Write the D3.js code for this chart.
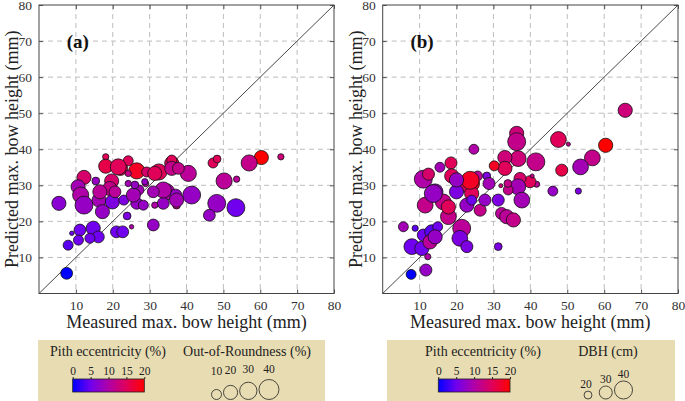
<!DOCTYPE html>
<html><head><meta charset="utf-8">
<script src="https://cdn.jsdelivr.net/npm/d3@7"></script>
<style>body{margin:0;background:#fff}svg{display:block}</style>
</head><body><svg id="c" width="685" height="401"></svg>
<script>
// ---------- data ----------
const tickValues = [10,20,30,40,50,60,70,80];
const pithTicks = [0,5,10,15,20];
const oorLegend = [10,20,30,40];
const dbhLegend = [20,30,40];
const xTitle = "Measured max. bow height (mm)";
const yTitle = "Predicted max. bow height (mm)";

// panel (a): measured, predicted, pith eccentricity (%), out-of-roundness (%)
const aMeasured = [60.3,65.6,57,47.2,48.3,50.2,53.6,18.1,18.1,22.1,24.2,26.5,12.2,19.7,15.4,10.6,11.3,5.4,12.2,16.3,19.9,17.2,23,27.1,28.9,32.5,26.6,23.9,24.2,25.1,31,11.1,14.7,16.1,13.8,10.7,7.9,8.9,21,22.7,7.5,41.4,48.2,53.4,46.2,34.6,37.1,37.3,33.7,31.4,26.5,28.3,25.6,19.2,36,40.5,37.3,21.5,29.2,31.4,36,36,37.8,28.7,26,24.2,33.7,31,20.6,16.5,37.3];
const aPredicted = [37.7,37.9,36.2,36.2,37.3,31.2,31.7,37.9,35.3,34.7,36.8,34.0,32.2,31.2,31.2,29.6,27.3,25.0,24.5,25.9,25.4,22.7,25.9,28.7,30.5,33.7,25,21.5,33.3,18.5,19,17.6,18.1,15.7,15.3,14.8,13.4,16.7,17.1,17.1,5.6,27.3,25,23.8,21.7,28.2,27.3,25.4,25,24.5,25,24.5,27.3,29.1,36.1,33.3,24.5,35.1,33.7,33.3,37,34.7,34.7,31,30.1,30.5,28.7,28.2,28.2,28.2,25.9];
const aPith = [20,13,12,15,15,11,11,15,16,16,15,18,14,14,8,9,10,7,8,9,6,8,6,9,10,15,10,6,12,10,8,5,5,5,5,5,4,5,5,5,0,8,8,5,8,10,8,9,8,10,8,8,9,12,15,11,12,15,14,15,15,12,12,8,8,9,10,9,11,11,9];
const aOOR = [20,4,26,10,6,26,4,4,20,20,10,26,20,20,6,20,26,20,32,20,20,20,10,10,4,26,10,6,4,2,14,14,20,14,10,10,10,2,14,14,14,32,32,32,14,26,14,10,14,4,14,10,20,20,20,26,6,26,10,20,10,20,14,4,6,4,26,14,14,20,20];

// panel (b): measured, predicted, pith eccentricity (%), DBH (cm)
const bMeasured = [65.7,60.4,56.8,53.6,48.5,47.6,50.3,46.1,53,41.5,41.7,39.9,40.5,36.3,36.3,36.7,33.1,33.1,30.2,24.7,37.2,36.6,34,33.9,32,18.5,18.7,15.5,11,12.4,25.7,28.2,28.8,24.1,22.3,20,24.1,14.2,11.5,16.4,13.7,17.8,21.4,22.8,24.1,23.7,26.4,27.7,31.3,32.2,33.6,35.4,37.7,31.3,5.6,8.8,11,13.3,14.9,7.9,10.6,12.8,14.2,20.9,22.8,12.2,11.7,7.7,17.8,20];
const bPredicted = [50.8,41.1,37.6,35.1,34.2,42.7,41.4,28.4,28.4,36.5,30.3,31,32.6,44.4,42.1,37.4,37.7,34.7,35.4,40,31.9,29.6,28.7,30.5,29.9,36.2,32.6,35,31.7,33.1,32.6,32.6,30.5,30.5,30.1,28.2,27.7,28.2,24.5,25.4,27.7,21.3,18.1,24.5,25.9,31.4,23.1,25.9,25.9,22.2,21.3,20.4,25.9,13,18.5,18.1,16.2,17.1,18.5,13,12.5,14.3,15.7,15.3,13,10.2,6.5,5.3,24,31.5];
const bPith = [13,20,12,9,16,15,12,8,6,12,11,15,12,13,12,13,13,15,18,10,14,9,12,12,13,15,15,9,10,14,11,6,9,18,15,6,15,8,12,12,8,12,11,8,5,18,12,8,6,11,11,12,9,6,9,4,5,4,5,5,5,11,8,6,6,10,8,0,15,8];
const bDBH = [31,31,34,34,27,34,12,23,16,38,16,27,12,31,38,34,31,31,23,23,27,34,23,19,12,27,31,23,38,27,23,19,27,34,31,31,31,34,34,34,38,34,38,31,23,38,27,27,27,27,31,31,34,19,23,16,27,31,23,34,31,31,31,34,27,16,27,23,31,31];

// ---------- drawing ----------
const FONT = '"Liberation Serif", "Times New Roman", Times, "DejaVu Serif", serif';
const svg = d3.select("#c").attr("font-family", FONT);
const color = d3.scaleLinear().domain([0,5,10,15,20])
  .range(["#0000ff","#7000ee","#b000a8","#e0005a","#ff0000"]).clamp(true);
const rOOR = d3.scaleSqrt().domain([0,40]).range([0,10]);
const rDBH = d3.scaleLinear().domain([10,40]).range([1.5,9.5]).clamp(true);

function panel(left, right, label, xs, ys, cs, ss, rScale){
  const top = 5, bottom = 293.5;
  const x = d3.scaleLinear().domain([0,80]).range([left,right]);
  const y = d3.scaleLinear().domain([0,80]).range([bottom,top]);
  const g = svg.append("g");
  g.selectAll(".gx").data(tickValues.slice(0,-1)).join("line")
    .attr("x1",d=>x(d)).attr("x2",d=>x(d)).attr("y1",top).attr("y2",bottom)
    .attr("stroke","#bdbdbd").attr("stroke-dasharray","5,4").attr("stroke-width",1);
  g.selectAll(".gy").data(tickValues.slice(0,-1)).join("line")
    .attr("y1",d=>y(d)).attr("y2",d=>y(d)).attr("x1",left).attr("x2",right)
    .attr("stroke","#bdbdbd").attr("stroke-dasharray","5,4").attr("stroke-width",1);
  const ax = g.append("g").attr("transform",`translate(0,${bottom})`)
    .call(d3.axisBottom(x).tickValues(tickValues).tickSizeInner(-4).tickSizeOuter(0).tickPadding(7));
  const ay = g.append("g").attr("transform",`translate(${left},0)`)
    .call(d3.axisLeft(y).tickValues(tickValues).tickSizeInner(-4).tickSizeOuter(0).tickPadding(7));
  const ax2 = g.append("g").attr("transform",`translate(0,${top})`)
    .call(d3.axisTop(x).tickValues(tickValues).tickSizeInner(-4).tickSizeOuter(0).tickFormat(""));
  const ay2 = g.append("g").attr("transform",`translate(${right},0)`)
    .call(d3.axisRight(y).tickValues(tickValues).tickSizeInner(-4).tickSizeOuter(0).tickFormat(""));
  [ax,ay,ax2,ay2].forEach(a=>{
    a.attr("font-family", FONT);
    a.select(".domain").remove();
    a.selectAll("line").attr("stroke","#555");
    a.selectAll("text").attr("font-size",13.5).attr("fill","#333").attr("font-family", FONT);
  });
  g.append("line").attr("x1",x(0)).attr("y1",y(0)).attr("x2",x(80)).attr("y2",y(80))
    .attr("stroke","#333").attr("stroke-width",0.9);
  const pts = xs.map((v,i)=>({m:v,p:ys[i],c:cs[i],s:ss[i]}));
  g.selectAll("circle.pt").data(pts).join("circle").attr("class","pt")
    .attr("cx",d=>x(d.m)).attr("cy",d=>y(d.p)).attr("r",d=>rScale(d.s))
    .attr("fill",d=>color(d.c)).attr("stroke","#111").attr("stroke-width",0.8);
  g.append("rect").attr("x",left).attr("y",top).attr("width",right-left).attr("height",bottom-top)
    .attr("fill","none").attr("stroke","#444").attr("stroke-width",1);
  g.append("text").attr("x",x(7.5)).attr("y",y(68)).attr("font-size",19).attr("font-weight","bold")
    .attr("fill","#111").attr("font-family", FONT).text(label);
  g.append("text").attr("x",(left+right)/2).attr("y",328).attr("text-anchor","middle")
    .attr("font-size",18).attr("fill","#222").attr("font-family", FONT).text(xTitle);
  g.append("text").attr("transform",`translate(${left-21},${(top+bottom)/2}) rotate(-90)`)
    .attr("text-anchor","middle").attr("font-size",18).attr("fill","#222").attr("font-family", FONT).text(yTitle);
}

panel(39, 334, "(a)", aMeasured, aPredicted, aPith, aOOR, rOOR);
panel(382.7, 678, "(b)", bMeasured, bPredicted, bPith, bDBH, rDBH);

// ---------- legends ----------
const defs = svg.append("defs");
const grad = defs.append("linearGradient").attr("id","pg");
pithTicks.forEach(t=>grad.append("stop").attr("offset",(t/20*100)+"%").attr("stop-color",color(t)));

function colorbar(g, x0, x1, cx){
  g.append("text").attr("x",cx).attr("y",356).attr("text-anchor","middle").attr("font-size",14)
    .attr("fill","#222").attr("font-family", FONT).text("Pith eccentricity (%)");
  const s = d3.scaleLinear().domain([0,20]).range([x0,x1]);
  g.append("rect").attr("x",x0).attr("y",379).attr("width",x1-x0).attr("height",13)
    .attr("fill","url(#pg)").attr("stroke","#222").attr("stroke-width",0.8);
  const ax = g.append("g").attr("transform","translate(0,379)")
    .call(d3.axisTop(s).tickValues(pithTicks).tickSize(2).tickPadding(2));
  ax.attr("font-family", FONT);
  ax.select(".domain").remove();
  ax.selectAll("line").attr("stroke","#222");
  ax.selectAll("text").attr("font-size",11.5).attr("fill","#222").attr("font-family", FONT);
}

const la = svg.append("g");
la.append("rect").attr("x",38).attr("y",340).attr("width",287).attr("height",61).attr("fill","#e8dcb2");
colorbar(la, 72.7, 144.3, 108);
la.append("text").attr("x",247).attr("y",356).attr("text-anchor","middle").attr("font-size",14)
  .attr("fill","#222").attr("font-family", FONT).text("Out-of-Roundness (%)");
const oorPos = [];
oorLegend.forEach((d,i)=>{
  const r = rOOR(d);
  const cx = i===0 ? 216.5 : oorPos[i-1].cx + oorPos[i-1].r + r + 2;
  oorPos.push({v:d, r, cx});
});
la.selectAll("circle.lg").data(oorPos).join("circle")
  .attr("cx",d=>d.cx).attr("cy",d=>399.5-d.r).attr("r",d=>d.r)
  .attr("fill","none").attr("stroke","#222").attr("stroke-width",0.8);
la.selectAll("text.lg").data(oorPos).join("text")
  .attr("x",d=>d.cx).attr("y",d=>377-d.r*0.45).attr("text-anchor","middle")
  .attr("font-size",11.5).attr("fill","#222").attr("font-family", FONT).text(d=>d.v);

const lb = svg.append("g");
lb.append("rect").attr("x",387).attr("y",340).attr("width",288).attr("height",61).attr("fill","#e8dcb2");
colorbar(lb, 438.3, 510, 483);
lb.append("text").attr("x",608).attr("y",356).attr("text-anchor","middle").attr("font-size",14)
  .attr("fill","#222").attr("font-family", FONT).text("DBH (cm)");
const dbhX = d3.scaleLinear().domain([20,40]).range([588,623.5]);
lb.selectAll("circle.lg").data(dbhLegend).join("circle")
  .attr("cx",d=>dbhX(d)).attr("cy",d=>399-rDBH(d)*0.95).attr("r",d=>rDBH(d)*0.95)
  .attr("fill","none").attr("stroke","#222").attr("stroke-width",0.8);
lb.selectAll("text.lg").data(dbhLegend).join("text")
  .attr("x",d=>dbhX(d)-(d===20?2:0)).attr("y",d=>399-rDBH(d)*1.9-3).attr("text-anchor","middle")
  .attr("font-size",11.5).attr("fill","#222").attr("font-family", FONT).text(d=>d);
</script></body></html>
